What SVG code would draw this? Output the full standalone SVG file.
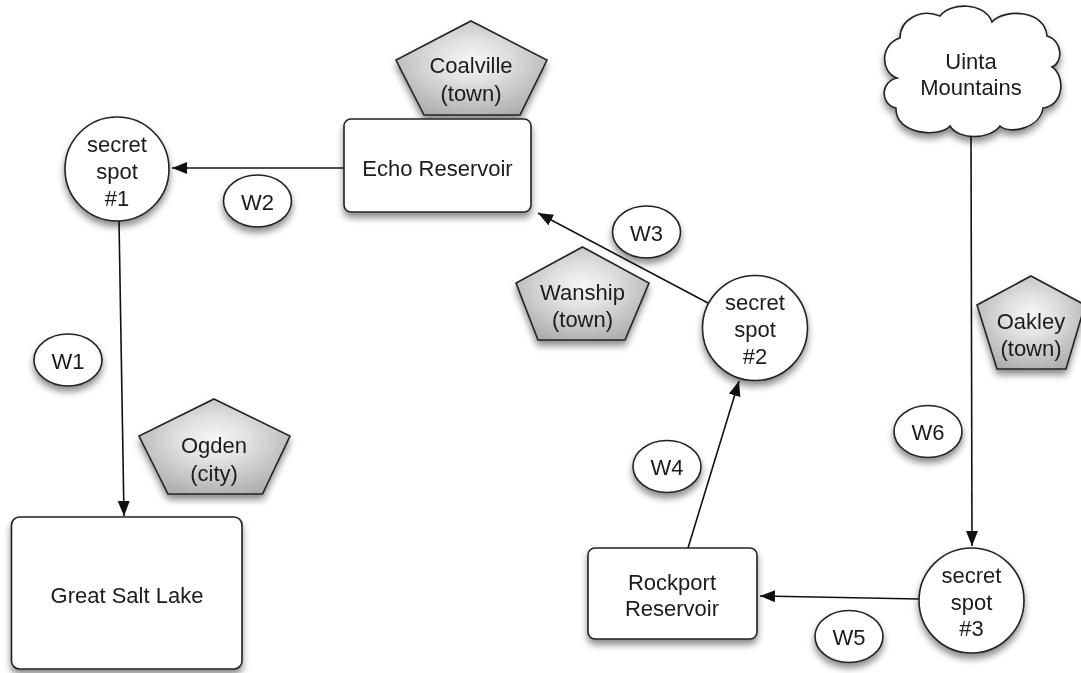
<svg xmlns="http://www.w3.org/2000/svg" width="1081" height="673" viewBox="0 0 1081 673">
<defs>
<filter id="sh" x="-30%" y="-30%" width="160%" height="170%">
<feDropShadow dx="0" dy="5" stdDeviation="3.5" flood-color="#000" flood-opacity="0.45"/>
</filter>
<radialGradient id="pg" cx="50%" cy="42%" r="62%">
<stop offset="0" stop-color="#f6f6f6"/>
<stop offset="0.35" stop-color="#e2e2e2"/>
<stop offset="1" stop-color="#aeaeae"/>
</radialGradient>
<marker id="ah" markerUnits="userSpaceOnUse" markerWidth="16" markerHeight="12" refX="15" refY="6" orient="auto">
<path d="M0,0 L15,6 L0,12 z" fill="#111"/>
</marker>
<style>
.w{fill:#fff;stroke:#222;stroke-width:1.6}
.p{fill:url(#pg);stroke:#222;stroke-width:1.6}
.t{font-family:"Liberation Sans",Arial,sans-serif;font-size:22px;fill:#1a1a1a;text-anchor:middle;dominant-baseline:central}
.c{fill:none;stroke:#111;stroke-width:1.6}
</style>
</defs>

<g id="connectors">
<line class="c" x1="344" y1="168" x2="172" y2="168" marker-end="url(#ah)"/>
<line class="c" x1="119" y1="221" x2="124" y2="516" marker-end="url(#ah)"/>
<line class="c" x1="708" y1="303" x2="538" y2="213" marker-end="url(#ah)"/>
<line class="c" x1="688" y1="548" x2="739" y2="381" marker-end="url(#ah)"/>
<line class="c" x1="919" y1="599" x2="760" y2="596" marker-end="url(#ah)"/>
<line class="c" x1="971" y1="133" x2="972" y2="546" marker-end="url(#ah)"/>
</g>

<g id="coalville" filter="url(#sh)">
<polygon class="p" points="471,21 547,60 520,115 424,115 396,60"/>
<text class="t" x="471" y="65">Coalville</text>
<text class="t" x="471" y="93">(town)</text>
</g>

<g id="echo" filter="url(#sh)">
<rect class="w" x="344" y="119" width="187" height="93" rx="7"/>
<text class="t" x="437.5" y="168">Echo Reservoir</text>
</g>

<g id="spot1" filter="url(#sh)">
<circle class="w" cx="117" cy="169" r="52"/>
<text class="t" x="117" y="144">secret</text>
<text class="t" x="117" y="171">spot</text>
<text class="t" x="117" y="198">#1</text>
</g>

<g id="w2" filter="url(#sh)">
<ellipse class="w" cx="257.5" cy="201" rx="34" ry="26"/>
<text class="t" x="257.5" y="202">W2</text>
</g>

<g id="w1" filter="url(#sh)">
<ellipse class="w" cx="68" cy="360" rx="34" ry="26"/>
<text class="t" x="68" y="361">W1</text>
</g>

<g id="ogden" filter="url(#sh)">
<polygon class="p" points="214,399 290,436 262.5,494 168,494 139,436"/>
<text class="t" x="214" y="445">Ogden</text>
<text class="t" x="214" y="473">(city)</text>
</g>

<g id="greatsaltlake" filter="url(#sh)">
<rect class="w" x="11.5" y="517" width="230.5" height="152" rx="8"/>
<text class="t" x="127" y="595">Great Salt Lake</text>
</g>

<g id="w3" filter="url(#sh)">
<ellipse class="w" cx="646.5" cy="232" rx="34" ry="26"/>
<text class="t" x="646.5" y="233">W3</text>
</g>

<g id="wanship" filter="url(#sh)">
<polygon class="p" points="582.5,247 649,283 625,340 538,340 516,283"/>
<text class="t" x="582.5" y="292">Wanship</text>
<text class="t" x="582.5" y="319">(town)</text>
</g>

<g id="spot2" filter="url(#sh)">
<circle class="w" cx="755" cy="328" r="52.5"/>
<text class="t" x="755" y="302">secret</text>
<text class="t" x="755" y="329">spot</text>
<text class="t" x="755" y="356">#2</text>
</g>

<g id="uinta" filter="url(#sh)">
<path class="w" d="M897,78 C880,72 880,44 900,38 C900,20 920,8 940,16 C950,2 985,2 992,22 C1005,8 1045,10 1047,36 C1062,40 1064,62 1052,67 C1065,75 1065,105 1043,108 C1040,128 1010,135 1000,126 C990,140 958,140 950,126 C940,138 895,135 896,108 C880,104 880,82 897,78 Z"/>
<text class="t" x="971" y="61">Uinta</text>
<text class="t" x="971" y="87">Mountains</text>
</g>

<g id="oakley" filter="url(#sh)">
<polygon class="p" points="1031,276 1085,305 1066,369 997,369 977,305"/>
<text class="t" x="1031" y="321">Oakley</text>
<text class="t" x="1031" y="348">(town)</text>
</g>

<g id="w6" filter="url(#sh)">
<ellipse class="w" cx="928" cy="431.5" rx="34" ry="26"/>
<text class="t" x="928" y="432.5">W6</text>
</g>

<g id="w4" filter="url(#sh)">
<ellipse class="w" cx="667" cy="466.5" rx="34" ry="26"/>
<text class="t" x="667" y="467.5">W4</text>
</g>

<g id="rockport" filter="url(#sh)">
<rect class="w" x="588" y="548" width="169" height="91" rx="7"/>
<text class="t" x="672" y="582">Rockport</text>
<text class="t" x="672" y="608">Reservoir</text>
</g>

<g id="spot3" filter="url(#sh)">
<circle class="w" cx="971.5" cy="600.5" r="52.5"/>
<text class="t" x="971.5" y="575">secret</text>
<text class="t" x="971.5" y="602">spot</text>
<text class="t" x="971.5" y="628">#3</text>
</g>

<g id="w5" filter="url(#sh)">
<ellipse class="w" cx="849" cy="636.5" rx="34" ry="26"/>
<text class="t" x="849" y="637.5">W5</text>
</g>
</svg>
